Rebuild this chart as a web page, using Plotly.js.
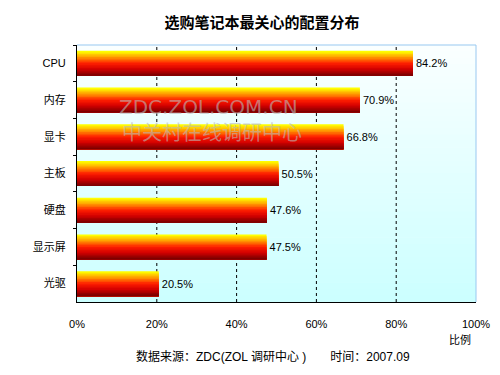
<!DOCTYPE html>
<html>
<head>
<meta charset="utf-8">
<script src="https://cdn.plot.ly/plotly-3.0.1.min.js"></script>
<style>html,body{margin:0;padding:0;background:#fff;}#chart{width:500px;height:375px;}</style>
</head>
<body>
<div id="chart"></div>
<script>
var categories = ["CPU", "内存", "显卡", "主板", "硬盘", "显示屏", "光驱"];
var values = [84.2, 70.9, 66.8, 50.5, 47.6, 47.5, 20.5];
var valueLabels = ["84.2%", "70.9%", "66.8%", "50.5%", "47.6%", "47.5%", "20.5%"];
var xTickVals = [0, 20, 40, 60, 80, 100];
var xTickText = ["0%", "20%", "40%", "60%", "80%", "100%"];
var gridVals = [20, 40, 60, 80];

var FONT = "Liberation Sans, Noto Sans CJK SC, sans-serif";

function lerp(a, b, t) { return a + (b - a) * t; }
function mix(c1, c2, t) {
  return "rgb(" + Math.round(lerp(c1[0], c2[0], t)) + "," + Math.round(lerp(c1[1], c2[1], t)) + "," + Math.round(lerp(c1[2], c2[2], t)) + ")";
}
// bar gradient stops: top yellow -> orange -> red -> dark red
var stops = [[255,255,0],[255,150,0],[255,30,0],[210,0,0],[125,0,0]];
function gradColor(t) {
  var s = t * (stops.length - 1);
  var i = Math.min(Math.floor(s), stops.length - 2);
  return mix(stops[i], stops[i + 1], s - i);
}

var barW = 0.68;
var N = 16;
var traces = [];
for (var i = 0; i < N; i++) {
  var w = barW / N;
  traces.push({
    type: "bar", orientation: "h",
    x: values, y: categories,
    width: barW - i * w, offset: -barW / 2 + i * w,
    marker: { color: gradColor(i / (N - 1)), line: { width: 0 } },
    hoverinfo: "skip", showlegend: false
  });
}
traces.push({
  type: "bar", orientation: "h",
  x: values, y: categories,
  width: barW, offset: -barW / 2,
  marker: { color: "rgba(0,0,0,0)", line: { width: 0 } },
  text: valueLabels, textposition: "outside", cliponaxis: false,
  textfont: { family: FONT, size: 11, color: "#000" },
  hoverinfo: "skip", showlegend: false
});

var shapes = [];
var NB = 40;
var bgTop = [250, 255, 255], bgBot = [204, 255, 255];
for (var j = 0; j < NB; j++) {
  shapes.push({
    type: "rect", xref: "paper", yref: "paper", layer: "below",
    x0: 0, x1: 1, y0: 1 - (j + 1) / NB, y1: 1 - j / NB + 0.002,
    fillcolor: mix(bgTop, bgBot, j / (NB - 1)), line: { width: 0 }
  });
}
gridVals.forEach(function (g) {
  shapes.push({
    type: "line", xref: "x", yref: "paper", layer: "below",
    x0: g, x1: g, y0: 0, y1: 1,
    line: { color: "#000", width: 1, dash: "3px,3px" }
  });
});
shapes.push({ type: "line", xref: "paper", yref: "paper", x0: 0, x1: 1, y0: 1, y1: 1, line: { color: "#99c8f0", width: 1 } });
shapes.push({ type: "line", xref: "paper", yref: "paper", x0: 1, x1: 1, y0: 0, y1: 1, line: { color: "#99c8f0", width: 1 } });

var layout = {
  width: 500, height: 375,
  margin: { l: 77, r: 24, t: 45, b: 73 },
  paper_bgcolor: "#fff", plot_bgcolor: "rgba(0,0,0,0)",
  barmode: "overlay",
  font: { family: FONT, size: 11, color: "#000" },
  title: { text: "<b>选购笔记本最关心的配置分布</b>", x: 0.524, xanchor: "center", y: 0.94, yanchor: "middle",
    font: { family: "Noto Sans CJK SC, sans-serif", size: 15, color: "#000" } },
  xaxis: {
    range: [0, 100], tickvals: xTickVals, ticktext: xTickText,
    showgrid: false, zeroline: false, showline: true, linecolor: "#000", linewidth: 1,
    ticks: "", ticklabelstandoff: 12, fixedrange: true,
    tickfont: { family: FONT, size: 11 }
  },
  yaxis: {
    type: "category", categoryorder: "array", categoryarray: categories, autorange: "reversed",
    showgrid: false, zeroline: false, showline: true, linecolor: "#000", linewidth: 1,
    ticks: "outside", ticklen: 3, tickcolor: "#000", tickson: "boundaries",
    ticklabelstandoff: 8, fixedrange: true,
    tickfont: { family: FONT, size: 11 }
  },
  shapes: shapes,
  annotations: [
    { text: "ZDC.ZOL.COM.CN", xref: "paper", yref: "paper", x: (209 - 77) / 400, y: 1 - (107 - 45) / 257,
      xanchor: "center", yanchor: "middle",
      showarrow: false, font: { family: "DejaVu Sans, sans-serif", size: 20, color: "rgba(185,185,185,0.6)" } },
    { text: "中关村在线调研中心", xref: "paper", yref: "paper", x: (212 - 77) / 400, y: 1 - (131 - 45) / 257,
      xanchor: "center", yanchor: "middle",
      showarrow: false, font: { family: "Noto Sans CJK SC, sans-serif", size: 20, color: "rgba(185,185,185,0.6)" } },
    { text: "比例", xref: "paper", yref: "paper", x: (461 - 77) / 400, y: -(339 - 302) / 257,
      xanchor: "center", yanchor: "middle", showarrow: false, font: { family: FONT, size: 11 } },
    { text: "数据来源：ZDC(ZOL 调研中心 )　　时间：2007.09", xref: "paper", yref: "paper",
      x: (273 - 77) / 400, y: -(356 - 302) / 257, xanchor: "center", yanchor: "middle",
      showarrow: false, font: { family: FONT, size: 12 } }
  ]
};

Plotly.newPlot("chart", traces, layout, { displayModeBar: false, staticPlot: true });
</script>
</body>
</html>
